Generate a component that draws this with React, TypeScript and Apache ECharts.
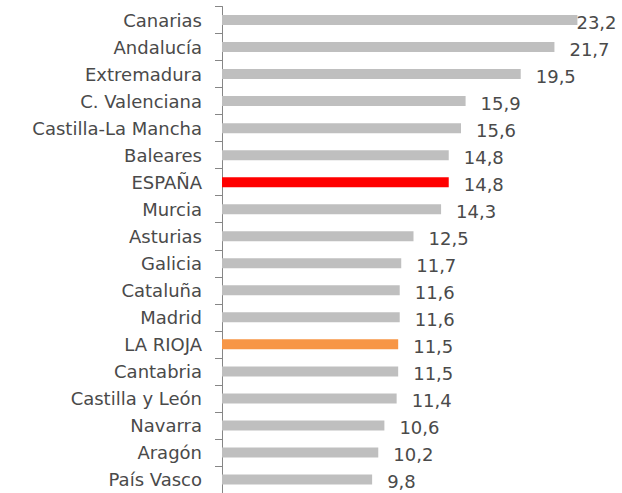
import React, { useEffect, useRef } from "react";
import * as echarts from "echarts";

const categories = [
  "Canarias",
  "Andalucía",
  "Extremadura",
  "C. Valenciana",
  "Castilla-La Mancha",
  "Baleares",
  "ESPAÑA",
  "Murcia",
  "Asturias",
  "Galicia",
  "Cataluña",
  "Madrid",
  "LA RIOJA",
  "Cantabria",
  "Castilla y León",
  "Navarra",
  "Aragón",
  "País Vasco",
];

const values = [23.2, 21.7, 19.5, 15.9, 15.6, 14.8, 14.8, 14.3, 12.5, 11.7, 11.6, 11.6, 11.5, 11.5, 11.4, 10.6, 10.2, 9.8];

const highlightColors: Record<string, string> = {
  "ESPAÑA": "#FF0000",
  "LA RIOJA": "#F79646",
};

const defaultColor = "#BFBFBF";

export default function App() {
  const ref = useRef<HTMLDivElement>(null);

  useEffect(() => {
    if (!ref.current) return;
    const chart = echarts.init(ref.current, undefined, { renderer: "svg" });
    const font = "'DejaVu Sans', sans-serif";
    chart.setOption({
      animation: false,
      backgroundColor: "#ffffff",
      grid: { left: 222, top: 6.5, width: 383, height: 493.2, containLabel: false },
      xAxis: {
        type: "value",
        min: 0,
        max: 25,
        show: false,
      },
      yAxis: {
        type: "category",
        data: categories,
        inverse: true,
        axisLine: { show: true, lineStyle: { color: "#868686", width: 1 } },
        axisTick: { show: true, length: 7, inside: false, lineStyle: { color: "#868686" } },
        axisLabel: {
          margin: 20,
          color: "#4a4a4a",
          fontSize: 18,
          fontFamily: font,
        },
        splitLine: { show: false },
      },
      series: [
        {
          type: "bar",
          barWidth: 10,
          data: values.map((v, i) => {
            const c = categories[i];
            const item: any = {
              value: v,
              itemStyle: { color: highlightColors[c] || defaultColor },
            };
            if (i === 0) {
              item.label = { distance: -1 };
            }
            return item;
          }),
          label: {
            show: true,
            position: "right",
            distance: 15,
            offset: [0, 2],
            color: "#4a4a4a",
            fontSize: 18,
            fontFamily: font,
            formatter: (p: any) => String(p.value).replace(".", ","),
          },
        },
      ],
    });
    return () => chart.dispose();
  }, []);

  return (
    <div
      ref={ref}
      style={{ position: "fixed", left: 0, top: 0, width: 622, height: 493, background: "#fff" }}
    />
  );
}
